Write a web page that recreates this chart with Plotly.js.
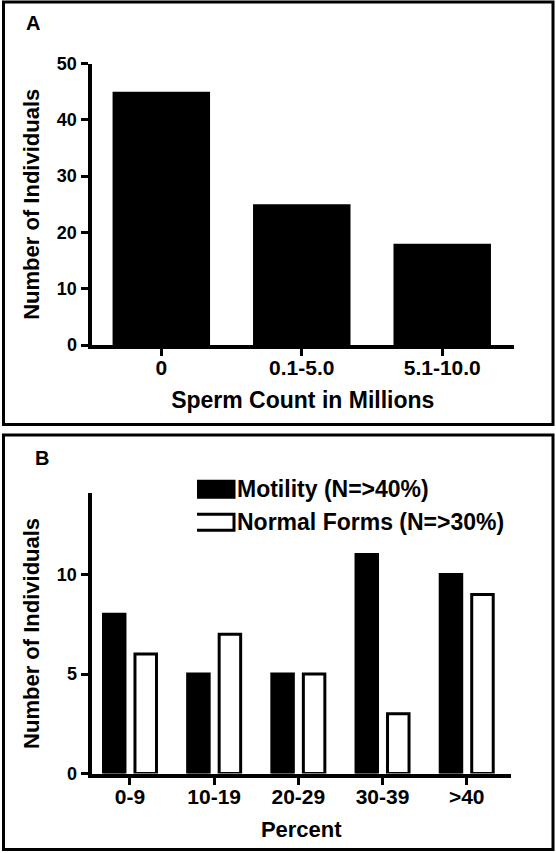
<!DOCTYPE html>
<html>
<head>
<meta charset="utf-8">
<script src="https://cdn.plot.ly/plotly-3.0.1.min.js"></script>
<style>
  html, body { margin: 0; padding: 0; background: #ffffff; }
  #chart { width: 556px; height: 853px; }
</style>
</head>
<body>
<div id="chart"></div>
<script>
// ---- Data ----
// Panel A
const countCategories = ["0", "0.1-5.0", "5.1-10.0"];
const countIndividuals = [45, 25, 18];
// Panel B
const percentCategories = ["0-9", "10-19", "20-29", "30-39", ">40"];
const motilityIndividuals = [8, 5, 5, 11, 10];
const normalFormsIndividuals = [6, 7, 5, 3, 9];
const seriesNames = ["Motility (N=>40%)", "Normal Forms (N=>30%)"];
const panelLabels = ["A", "B"];
const titlesA = { x: "Sperm Count in Millions", y: "Number of Individuals" };
const titlesB = { x: "Percent", y: "Number of Individuals" };

const W = 556, H = 853;
const FONT = "Liberation Sans, Arial, Helvetica, sans-serif";
const px = v => v / W;
const py = v => 1 - v / H;

const data = [
  {
    type: "bar", x: countCategories, y: countIndividuals,
    xaxis: "x", yaxis: "y", width: 0.694,
    marker: { color: "#000000", line: { width: 0 } },
    showlegend: false, hoverinfo: "skip"
  },
  {
    type: "bar", x: percentCategories, y: motilityIndividuals, name: seriesNames[0],
    xaxis: "x2", yaxis: "y2",
    marker: { color: "#000000", line: { color: "#000000", width: 3 } },
    hoverinfo: "skip"
  },
  {
    type: "bar", x: percentCategories, y: normalFormsIndividuals, name: seriesNames[1],
    xaxis: "x2", yaxis: "y2",
    marker: { color: "#ffffff", line: { color: "#000000", width: 3 } },
    hoverinfo: "skip"
  }
];

const axisCommon = {
  showline: true, linecolor: "#000000", linewidth: 4,
  ticks: "outside", ticklen: 7, tickwidth: 3, tickcolor: "#000000",
  showgrid: false, zeroline: false, fixedrange: true
};

const layout = {
  width: W, height: H,
  margin: { l: 0, r: 0, t: 0, b: 0, pad: 0 },
  paper_bgcolor: "#ffffff", plot_bgcolor: "rgba(0,0,0,0)",
  font: { family: FONT, color: "#000000", weight: "bold" },
  barmode: "group", bargap: 0.2516, bargroupgap: 0.3175,
  showlegend: true,
  legend: {
    x: px(197), y: py(467), xanchor: "left", yanchor: "top",
    bgcolor: "rgba(0,0,0,0)", borderwidth: 0,
    font: { family: FONT, size: 23, color: "#000000", weight: "bold" },
    traceorder: "normal", tracegroupgap: 0, itemclick: false, itemdoubleclick: false
  },
  xaxis: Object.assign({}, axisCommon, {
    domain: [px(91.5), px(514)], anchor: "y", type: "category",
    range: [-0.497, 2.511], ticklabelstandoff: -6,
    tickfont: { family: FONT, size: 21, weight: "bold" },
    title: { text: titlesA.x, standoff: 15, font: { family: FONT, size: 23, weight: "bold" } }
  }),
  yaxis: Object.assign({}, axisCommon, {
    domain: [1 - 345 / H, 1 - 63.5 / H], anchor: "x",
    range: [0, 50], dtick: 10, tick0: 0,
    tickfont: { family: FONT, size: 18, weight: "bold" },
    title: { text: titlesA.y, standoff: 12, font: { family: FONT, size: 22, weight: "bold" } }
  }),
  xaxis2: Object.assign({}, axisCommon, {
    domain: [px(91.5), px(511)], anchor: "y2", type: "category",
    range: [-0.457, 4.526], ticklabelstandoff: -6,
    tickfont: { family: FONT, size: 21, weight: "bold" },
    title: { text: titlesB.x, standoff: 16, font: { family: FONT, size: 22, weight: "bold" } }
  }),
  yaxis2: Object.assign({}, axisCommon, {
    domain: [1 - 773.5 / H, 1 - 493.3 / H], anchor: "x2",
    range: [0, 14.08], dtick: 5, tick0: 0,
    tickfont: { family: FONT, size: 18, weight: "bold" },
    title: { text: titlesB.y, standoff: 12, font: { family: FONT, size: 22, weight: "bold" } }
  }),
  shapes: [
    { type: "rect", xref: "paper", yref: "paper", x0: px(3.5), x1: px(553), y0: py(424.5), y1: py(2),
      line: { color: "#000000", width: 3 }, fillcolor: "rgba(0,0,0,0)", layer: "below" },
    { type: "rect", xref: "paper", yref: "paper", x0: px(3.5), x1: px(553), y0: py(849.5), y1: py(435),
      line: { color: "#000000", width: 3 }, fillcolor: "rgba(0,0,0,0)", layer: "below" }
  ],
  annotations: [
    { text: panelLabels[0], xref: "paper", yref: "paper", x: px(24), y: py(23), xanchor: "left", yanchor: "middle",
      showarrow: false, font: { family: FONT, size: 20, weight: "bold" } },
    { text: panelLabels[1], xref: "paper", yref: "paper", x: px(33), y: py(458), xanchor: "left", yanchor: "middle",
      showarrow: false, font: { family: FONT, size: 20, weight: "bold" } }
  ]
};

Plotly.newPlot("chart", data, layout, { staticPlot: true, displayModeBar: false }).then(function (gd) {
  // Enlarge legend swatches to the wide rectangles used in the reference figure.
  const fs = 23;
  gd.querySelectorAll(".legend .traces").forEach(function (g) {
    const text = g.querySelector("text.legendtext");
    const path = g.querySelector(".legendpoints path");
    if (!text || !path) return;
    const tb = text.getBoundingClientRect();
    const pb = path.getBoundingClientRect();
    const cx = (pb.left + pb.right) / 2, cy = (pb.top + pb.bottom) / 2;
    const capC = tb.bottom - 0.57 * fs;
    const x0 = tb.left - 44 - cx, x1 = tb.left - 3 - cx;
    const y0 = capC - 8 - cy, y1 = capC + 8 - cy;
    path.setAttribute("d", "M" + x1 + "," + y1 + "H" + x0 + "V" + y0 + "H" + x1 + "Z");
    path.style.strokeWidth = "3px";
    path.style.stroke = "#000000";
  });
});
</script>
</body>
</html>
